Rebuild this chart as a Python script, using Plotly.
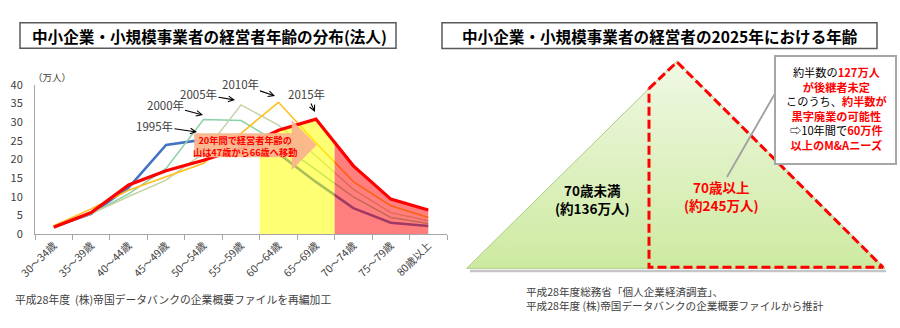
import plotly.graph_objects as go

# ---------------- data ----------------
categories = ["30～34歳", "35～39歳", "40～44歳", "45～49歳", "50～54歳", "55～59歳",
              "60～64歳", "65～69歳", "70～74歳", "75～79歳", "80歳以上"]
year_labels = ["1995年", "2000年", "2005年", "2010年", "2015年"]
v1995 = [2.0, 5.5, 12.5, 23.9, 25.3, 24.5, 21.6, 14.0, 7.0, 3.1, 2.2]
v2000 = [2.0, 5.5, 10.8, 17.6, 30.7, 30.4, 24.5, 17.3, 10.0, 4.5, 2.9]
v2005 = [2.0, 5.5, 10.1, 14.5, 21.7, 34.6, 29.2, 21.0, 12.0, 5.8, 3.6]
v2010 = [2.3, 6.8, 11.8, 15.4, 19.0, 27.0, 35.3, 24.5, 14.1, 7.6, 4.5]
v2015 = [1.9, 5.8, 13.2, 17.0, 19.8, 23.0, 27.8, 30.8, 18.3, 9.4, 6.5]
y_ticks = [0, 5, 10, 15, 20, 25, 30, 35, 40]

under70_label = ["70歳未満", "(約136万人)"]
over70_label = ["70歳以上", "(約245万人)"]

W, H = 900, 328
FONT = "Noto Sans CJK JP"
GREY_TXT = "#404040"

def Y(py):  # pixel-from-top -> decoration axis coordinate
    return H - py

fig = go.Figure()

xs = list(range(len(categories)))
series = [(v1995, "rgb(68,114,196)", 2.6),
          (v2000, "rgb(140,208,165)", 1.5),
          (v2005, "rgb(196,210,165)", 1.5),
          (v2010, "rgb(255,190,30)", 1.6)]
for vals, col, w in series:
    fig.add_trace(go.Scatter(x=xs, y=vals, mode="lines", line=dict(color=col, width=w),
                             hoverinfo="skip", xaxis="x", yaxis="y"))

def interp(vals, x):
    i = int(x)
    f = x - i
    return vals[i] * (1 - f) + vals[i + 1] * f

# yellow band (60-69) under the 2015 line
yx = [5.5, 6, 7, 7.5, 7.5, 5.5]
yy = [interp(v2015, 5.5), v2015[6], v2015[7], interp(v2015, 7.5), 0, 0]
fig.add_trace(go.Scatter(x=yx, y=yy, fill="toself", fillcolor="rgba(255,255,0,0.55)",
                         mode="lines", line=dict(width=0), hoverinfo="skip"))
# red band (70+) under the 2015 line
rx = [7.5, 8, 9, 10, 10, 7.5]
ry = [interp(v2015, 7.5), v2015[8], v2015[9], v2015[10], 0, 0]
fig.add_trace(go.Scatter(x=rx, y=ry, fill="toself", fillcolor="rgba(255,0,0,0.5)",
                         mode="lines", line=dict(width=0), hoverinfo="skip"))

fig.add_trace(go.Scatter(x=xs, y=v2015, mode="lines", line=dict(color="#FF0000", width=3.2),
                         hoverinfo="skip"))

# ---------------- right panel pyramid (decoration axes in pixel units) ----------------
apex = (677, 61)
left_v = (466.7, 268.3)
right_v = (885, 268.3)
split_x = 649
split_top = left_v[1] - (split_x - left_v[0]) / (apex[0] - left_v[0]) * (left_v[1] - apex[1])

# shadow
fig.add_trace(go.Scatter(x=[470, 886], y=[Y(271), Y(271)], mode="lines",
                         line=dict(color="rgba(150,150,150,0.55)", width=2.5),
                         xaxis="x2", yaxis="y2", hoverinfo="skip"))
fig.add_trace(go.Scatter(x=[left_v[0], apex[0], right_v[0], left_v[0]],
                         y=[Y(left_v[1]), Y(apex[1]), Y(right_v[1]), Y(left_v[1])],
                         fill="toself", mode="lines",
                         line=dict(color="rgb(170,205,130)", width=1),
                         fillgradient=dict(type="vertical",
                                           colorscale=[[0, "rgb(205,234,160)"], [1, "rgb(240,248,228)"]],
                                           start=Y(268.3), stop=Y(61)),
                         xaxis="x2", yaxis="y2", hoverinfo="skip"))
fig.add_trace(go.Scatter(x=[split_x, apex[0], right_v[0] - 2, split_x, split_x],
                         y=[Y(split_top), Y(apex[1] + 1), Y(right_v[1] - 1), Y(right_v[1] - 1), Y(split_top)],
                         mode="lines", line=dict(color="#FF0000", width=3, dash="9px,4px"),
                         xaxis="x2", yaxis="y2", hoverinfo="skip"))

shapes = []
# title boxes
shapes.append(dict(type="rect", xref="x2", yref="y2", x0=20, x1=396, y0=Y(22.7), y1=Y(48.3),
                   line=dict(color="#595959", width=1.5), layer="above"))
shapes.append(dict(type="rect", xref="x2", yref="y2", x0=442, x1=877, y0=Y(22.7), y1=Y(48.5),
                   line=dict(color="#595959", width=1.5), layer="above"))
# block arrow
shapes.append(dict(type="path", xref="x2", yref="y2",
                   path=f"M194.3,{Y(133.3)} L291.7,{Y(133.3)} L291.7,{Y(120)} L316.7,{Y(145)} "
                        f"L291.7,{Y(170)} L291.7,{Y(157.3)} L194.3,{Y(157.3)} Z",
                   fillcolor="rgba(249,181,140,0.95)", line=dict(width=0), layer="above"))
# callout pointer and box
shapes.append(dict(type="line", xref="x2", yref="y2", x0=777, y0=Y(90), x1=727, y1=Y(177),
                   line=dict(color="#A0A0A0", width=1.8), layer="above"))
shapes.append(dict(type="rect", xref="x2", yref="y2", x0=775, x1=896, y0=Y(56), y1=Y(164),
                   fillcolor="white", line=dict(color="#A6A6A6", width=2), layer="above"))

ann = []
def txt(x, y, t, size, color="black", bold=False, xanchor="center", align="center"):
    ann.append(dict(xref="x2", yref="y2", x=x, y=Y(y), text=(f"<b>{t}</b>" if bold else t),
                    showarrow=False, xanchor=xanchor, yanchor="middle", align=align,
                    font=dict(family=FONT, size=size, color=color)))

txt(209.5, 35.5, "中小企業・小規模事業者の経営者年齢の分布(法人)", 15.6, bold=True)
txt(659.5, 35.5, "中小企業・小規模事業者の経営者の2025年における年齢", 15.6, bold=True)
txt(51.5, 76.5, "（万人）", 9.5, GREY_TXT)

# year labels with arrows
year_pos = [((154.5, 126), (197, 132)), ((165, 105), (203, 115)), ((198.5, 94), (235, 100)),
            ((240, 84), (275, 96)), ((306.5, 94), (315, 112))]
for lab, (tc, tip) in zip(year_labels, year_pos):
    ann.append(dict(xref="x2", yref="y2", x=tip[0], y=Y(tip[1]), ax=tc[0] - tip[0], ay=tc[1] - tip[1],
                    text=lab, showarrow=True, arrowhead=5, arrowsize=1, arrowwidth=1.1,
                    arrowcolor="black", standoff=0,
                    font=dict(family=FONT, size=11.5, color=GREY_TXT)))

txt(244.5, 146.2, "20年間で経営者年齢の<br>山は47歳から66歳へ移動", 9.2, "#FF0000", bold=True)

txt(13, 298.5, "平成28年度  (株)帝国データバンクの企業概要ファイルを再編加工", 10.8, GREY_TXT, xanchor="left")
txt(524, 298.3, "平成28年度総務省「個人企業経済調査」、<br>平成28年度 (株)帝国データバンクの企業概要ファイルから推計",
    10.6, GREY_TXT, xanchor="left", align="left")

txt(592, 198.5, "<br>".join(under70_label), 13.5, "black", bold=True)
txt(721.7, 196.0, "<br>".join(over70_label), 13.5, "#FF0000", bold=True)

R = '<span style="color:#FF0000"><b>{}</b></span>'
box_lines = ["約半数の" + R.format("127万人"),
             R.format("が後継者未定"),
             "このうち、" + R.format("約半数が"),
             R.format("黒字廃業の可能性"),
             "⇨10年間で" + R.format("60万件"),
             R.format("以上のM&amp;Aニーズ")]
txt(836, 108.7, "<br>".join(box_lines), 11.2, "black")

fig.update_layout(
    template=None,
    width=W, height=H, margin=dict(l=0, r=0, t=0, b=0, autoexpand=False),
    paper_bgcolor="white", plot_bgcolor="rgba(0,0,0,0)", showlegend=False,
    font=dict(family=FONT, color=GREY_TXT),
    xaxis=dict(domain=[35 / W, 447 / W], range=[-0.5, 10.5], tickmode="array", tickvals=xs,
               ticktext=categories, tickangle=-45, ticks="", showline=True, automargin=False,
               linecolor="#A6A6A6", linewidth=1, showgrid=False, zeroline=False,
               tickfont=dict(family=FONT, size=10.5, color=GREY_TXT),
               minor=dict(ticks="outside", tick0=-0.5, dtick=1, ticklen=5,
                          tickcolor="#A6A6A6", showgrid=False)),
    yaxis=dict(domain=[1 - 234.3 / H, 1 - 84.7 / H], range=[0, 40], tickmode="array",
               tickvals=y_ticks, showline=True, linecolor="#A6A6A6", linewidth=1, automargin=False,
               showgrid=False, zeroline=False, ticks="", ticklabelstandoff=9,
               tickfont=dict(family=FONT, size=11, color=GREY_TXT)),
    xaxis2=dict(domain=[0, 1], range=[0, W], visible=False, anchor="y2", automargin=False),
    yaxis2=dict(domain=[0, 1], range=[0, H], visible=False, anchor="x2", automargin=False),
    shapes=shapes, annotations=ann,
)

fig.write_html("out.html")
